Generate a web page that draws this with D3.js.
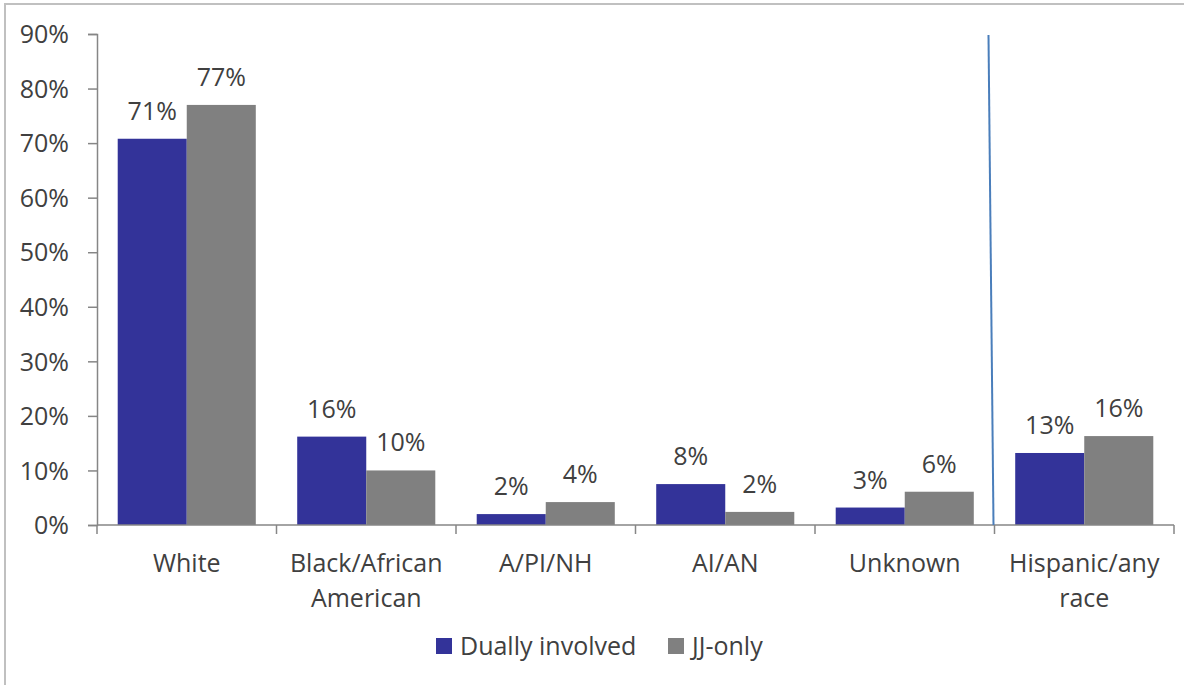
<!DOCTYPE html>
<html>
<head>
<meta charset="utf-8">
<script src="https://cdn.jsdelivr.net/npm/d3@7/dist/d3.min.js"></script>
<style>
  html, body { margin: 0; padding: 0; background: #fff; }
  svg { display: block; }
  text { font-family: "Open Sans", "Noto Sans", sans-serif; fill: #404040; }
</style>
</head>
<body>
<svg id="chart" width="1184" height="685"></svg>
<script>
const categories = [["White"], ["Black/African", "American"], ["A/PI/NH"], ["AI/AN"], ["Unknown"], ["Hispanic/any", "race"]];
const seriesNames = ["Dually involved", "JJ-only"];
const duallyValues = [70.8, 16.2, 2.0, 7.5, 3.2, 13.2];
const jjValues = [77.0, 10.0, 4.2, 2.4, 6.1, 16.3];
const yTicks = [0, 10, 20, 30, 40, 50, 60, 70, 80, 90];
const colors = ["#333399", "#808080"];

(function () {
const svg = d3.select("#chart");
const mLeft = 97, mRight = 1174, mTop = 34, mBottom = 525;
const FS = 25;
const fmt = d3.format(".0f");

// outer border
svg.append("rect").attr("x", 5).attr("y", 4).attr("width", 1300).attr("height", 800)
  .attr("fill", "none").attr("stroke", "#c0c0c0").attr("stroke-width", 2);

const x = d3.scaleBand().domain(d3.range(categories.length)).range([mLeft, mRight]).paddingInner(0).paddingOuter(0);
const inner = d3.scaleBand().domain([0, 1]).range([0, x.bandwidth()]).paddingInner(0).paddingOuter(0.3);
const y = d3.scaleLinear().domain([0, 90]).range([mBottom, mTop]);

// y axis
const yAxis = d3.axisLeft(y).tickValues(yTicks).tickFormat(d => d + "%").tickSize(9).tickPadding(19);
const gy = svg.append("g").attr("transform", `translate(${mLeft},0)`).call(yAxis);
gy.select(".domain").attr("stroke", "#868686").attr("stroke-width", 1.5);
gy.selectAll(".tick line").attr("stroke", "#868686").attr("stroke-width", 1.5);
gy.selectAll(".tick text").attr("font-size", FS).attr("fill", "#404040")
  .attr("font-family", '"Open Sans", "Noto Sans", sans-serif').attr("dy", "0.35em");

// bars
const data = categories.map((c, i) => ({ i, vals: [duallyValues[i], jjValues[i]] }));
const groups = svg.append("g").selectAll("g").data(data).join("g")
  .attr("transform", d => `translate(${x(d.i)},0)`);
groups.selectAll("rect").data(d => d.vals.map((v, k) => ({ v, k }))).join("rect")
  .attr("x", d => inner(d.k)).attr("width", inner.bandwidth())
  .attr("y", d => y(d.v)).attr("height", d => y(0) - y(d.v))
  .attr("fill", d => colors[d.k]);
groups.selectAll("text.lbl").data(d => d.vals.map((v, k) => ({ v, k }))).join("text")
  .attr("class", "lbl")
  .attr("x", d => inner(d.k) + inner.bandwidth() / 2)
  .attr("y", d => y(d.v) - 19)
  .attr("text-anchor", "middle").attr("font-size", FS)
  .text(d => fmt(d.v) + "%");

// x axis
const xAxisG = svg.append("g");
xAxisG.append("line").attr("x1", mLeft).attr("x2", mRight).attr("y1", mBottom).attr("y2", mBottom)
  .attr("stroke", "#868686").attr("stroke-width", 1.5);
const bounds = d3.range(categories.length + 1).map(i => i < categories.length ? x(i) : mRight);
xAxisG.selectAll("line.tk").data(bounds).join("line").attr("class", "tk")
  .attr("x1", d => d).attr("x2", d => d).attr("y1", mBottom).attr("y2", mBottom + 9)
  .attr("stroke", "#868686").attr("stroke-width", 1.5);
const catLabels = xAxisG.selectAll("text.cat").data(categories).join("text").attr("class", "cat")
  .attr("text-anchor", "middle").attr("font-size", FS)
  .attr("transform", (d, i) => `translate(${x(i) + x.bandwidth() / 2},572)`);
catLabels.selectAll("tspan").data(d => d).join("tspan")
  .attr("x", 0).attr("y", (d, j) => j * 35).text(d => d);

// separator line
const sepX = x(categories.length - 1);
svg.append("line").attr("x1", sepX - 6).attr("y1", mTop + 1).attr("x2", sepX - 1).attr("y2", mBottom)
  .attr("stroke", "#4a7ebb").attr("stroke-width", 2);

// legend
const legendItems = [{ name: seriesNames[0], x: 436 }, { name: seriesNames[1], x: 668 }];
const lg = svg.append("g").selectAll("g").data(legendItems).join("g")
  .attr("transform", d => `translate(${d.x},638)`);
lg.append("rect").attr("width", 16).attr("height", 16).attr("fill", (d, i) => colors[i]);
lg.append("text").attr("x", 24).attr("y", 17).attr("font-size", FS).text(d => d.name);
})();
</script>
</body>
</html>
